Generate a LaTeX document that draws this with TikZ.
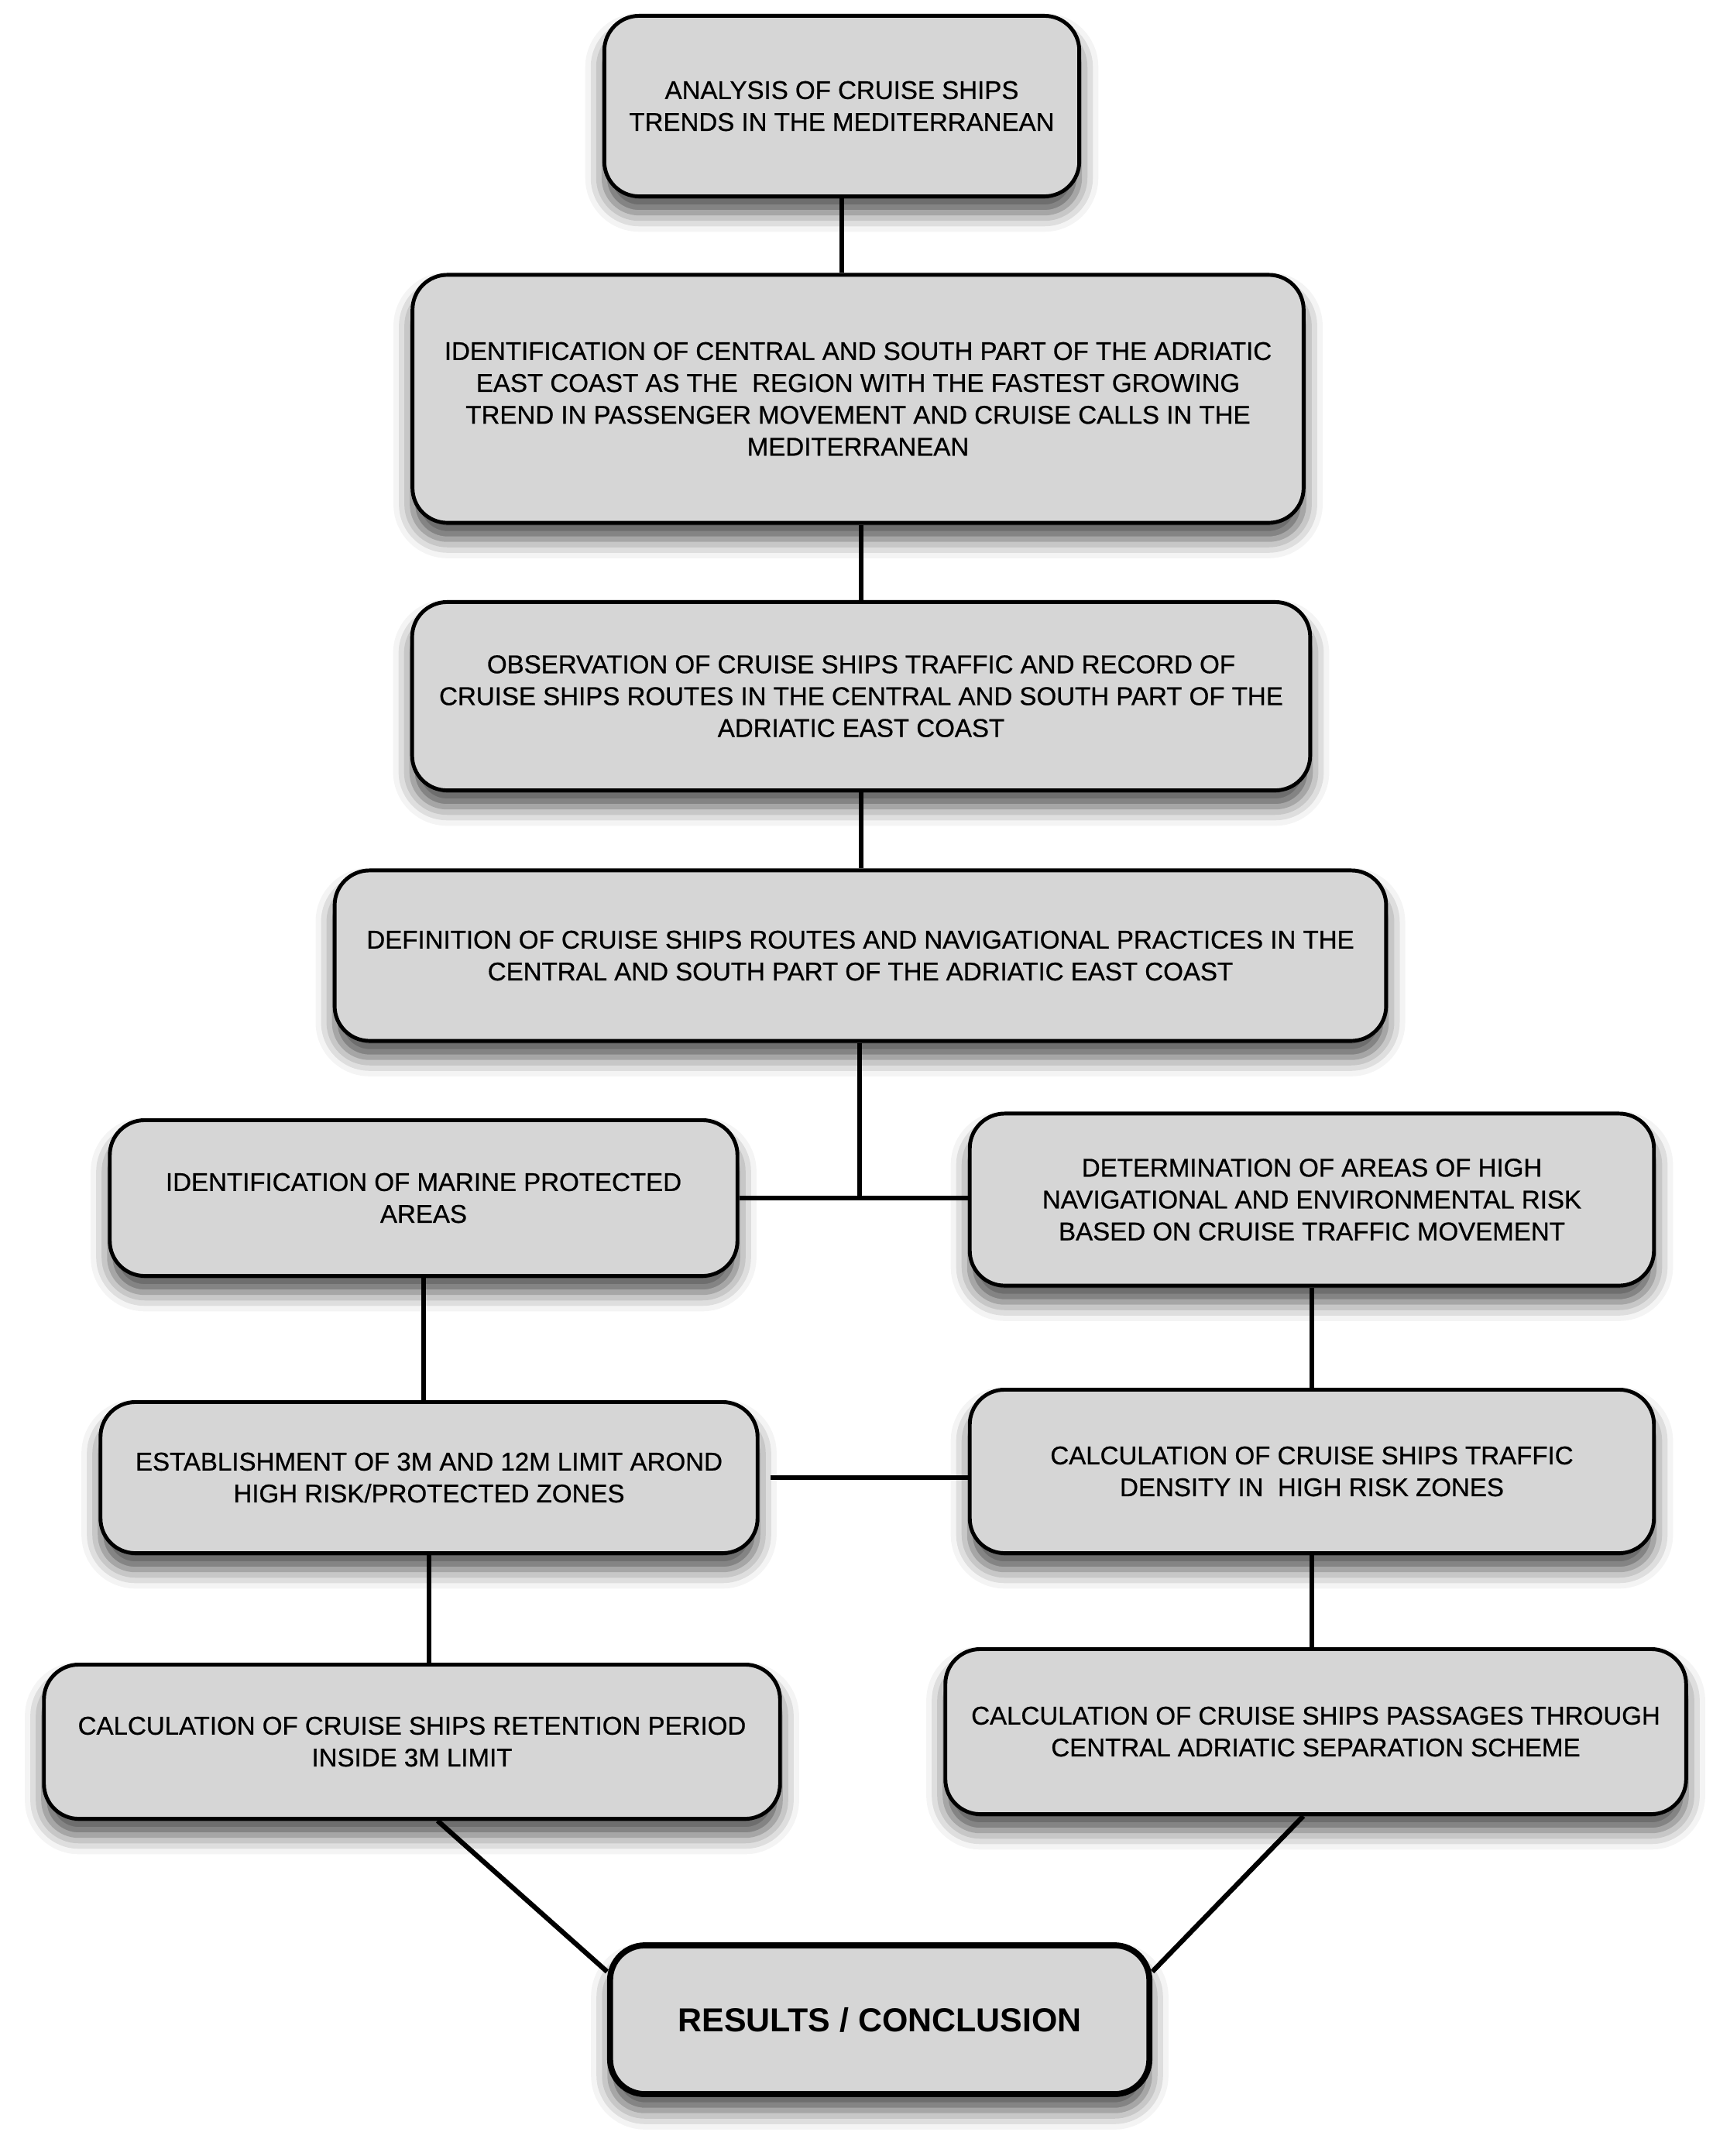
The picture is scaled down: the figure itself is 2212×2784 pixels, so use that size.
\documentclass[tikz,border=0pt]{standalone}
\usepackage{fontspec}
\setmainfont{Liberation Sans}
\newfontfamily\boxfont{Liberation Sans}[FakeBold=0.7]
\usetikzlibrary{shadows.blur}
\definecolor{boxgray}{RGB}{214,214,214}
\tikzset{
  stage/.style={draw=black, line width=1.4pt, fill=boxgray, rounded corners=0.45cm,
    align=center, inner sep=0pt, font=\boxfont\fontsize{9.4}{11.7}\selectfont,
    blur shadow={shadow xshift=0pt, shadow yshift=-6pt, shadow blur radius=7pt, shadow opacity=70}},
  result/.style={stage, line width=2.2pt, font=\fontsize{12.2}{14}\selectfont\bfseries},
}
\begin{document}
\begin{tikzpicture}[x=0.01cm, y=-0.01cm]
      \useasboundingbox (0,0) rectangle (2212,2784);
      \node[stage, minimum width=6.13cm, minimum height=2.33cm] (0) at (1087,137)
        {ANALYSIS OF CRUISE SHIPS\\TRENDS IN THE MEDITERRANEAN};
      \node[stage, minimum width=11.50cm, minimum height=3.20cm] (1) at (1108,515)
        {IDENTIFICATION OF CENTRAL AND SOUTH PART OF THE ADRIATIC\\EAST COAST AS THE~~REGION WITH THE FASTEST GROWING\\TREND IN PASSENGER MOVEMENT AND CRUISE CALLS IN THE\\MEDITERRANEAN};
      \node[stage, minimum width=11.59cm, minimum height=2.43cm] (2) at (1112,899)
        {OBSERVATION OF CRUISE SHIPS TRAFFIC AND RECORD OF\\CRUISE SHIPS ROUTES IN THE CENTRAL AND SOUTH PART OF THE\\ADRIATIC EAST COAST};
      \node[stage, minimum width=13.57cm, minimum height=2.20cm] (3) at (1111,1234)
        {DEFINITION OF CRUISE SHIPS ROUTES AND NAVIGATIONAL PRACTICES IN THE\\CENTRAL AND SOUTH PART OF THE ADRIATIC EAST COAST};
      \node[stage, minimum width=8.10cm, minimum height=2.01cm] (4) at (547,1547)
        {IDENTIFICATION OF MARINE PROTECTED\\AREAS};
      \node[stage, minimum width=8.83cm, minimum height=2.22cm] (5) at (1694,1549)
        {DETERMINATION OF AREAS OF HIGH\\NAVIGATIONAL AND ENVIRONMENTAL RISK\\BASED ON CRUISE TRAFFIC MOVEMENT};
      \node[stage, minimum width=8.48cm, minimum height=1.95cm] (6) at (554,1908)
        {ESTABLISHMENT OF 3M AND 12M LIMIT AROND\\HIGH RISK/PROTECTED ZONES};
      \node[stage, minimum width=8.83cm, minimum height=2.11cm] (7) at (1694,1900)
        {CALCULATION OF CRUISE SHIPS TRAFFIC\\DENSITY IN~~HIGH RISK ZONES};
      \node[stage, minimum width=9.50cm, minimum height=1.99cm] (8) at (532,2249)
        {CALCULATION OF CRUISE SHIPS RETENTION PERIOD\\INSIDE 3M LIMIT};
      \node[stage, minimum width=9.56cm, minimum height=2.13cm] (9) at (1699,2236)
        {CALCULATION OF CRUISE SHIPS PASSAGES THROUGH\\CENTRAL ADRIATIC SEPARATION SCHEME};
      \node[result, minimum width=6.96cm, minimum height=1.92cm] (10) at (1136,2608)
        {RESULTS / CONCLUSION};
      \coordinate (j) at (1110,1545);
      \begin{scope}[line width=1.8pt]
        \draw (0.south) to (0.south |- 1.north);
        \draw (2.north) to (2.north |- 1.south);
        \draw (3.north -| 2.south) to (2.south);
        \draw (3.south -| j) to (j);
        \draw (4.east) to (4.east -| 5.west);
        \draw (4.south) to (4.south |- 6.north);
        \draw (5.south) to (5.south |- 7.north);
        \draw ([xshift=0.14cm]6.east) to (6.east -| 7.west);
        \draw (6.south) to (6.south |- 8.north);
        \draw (7.south) to (7.south |- 9.north);
        \draw ([xshift=0.33cm]8.south) to (10.170);
        \draw ([xshift=-0.16cm]9.south) to (10.10);
      \end{scope}
    \end{tikzpicture}
\end{document}
